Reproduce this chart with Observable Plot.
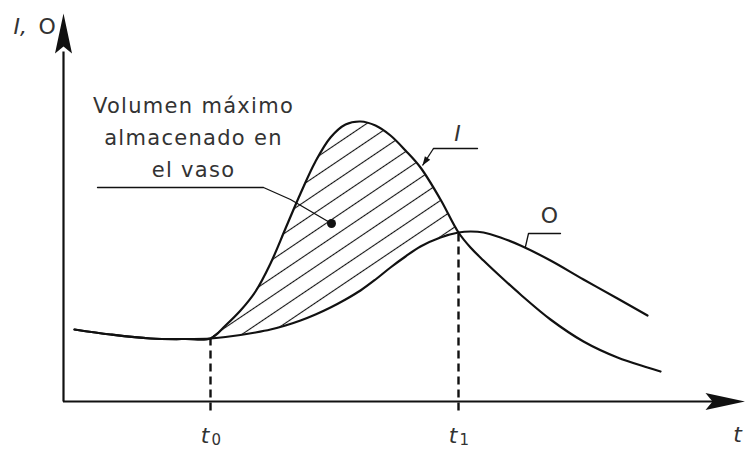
<!DOCTYPE html>
<html>
<head>
<meta charset="utf-8">
<script src="https://cdn.jsdelivr.net/npm/d3@7"></script>
<script src="https://cdn.jsdelivr.net/npm/@observablehq/plot@0.6"></script>
<style>
  html, body { margin: 0; padding: 0; background: #fff; overflow: hidden; }
  #chart svg { display: block; }
</style>
</head>
<body>
<div id="chart"></div>
<script>
const time    = [1.1, 4.7, 8.7, 12.2, 14.7, 16.2, 17.7, 19.2, 20.7, 22.2, 23.7, 25.2, 26.7, 28.2, 29.7, 31.2, 32.7, 34.2, 35.7, 37.7, 39.5, 40.7, 42.0, 43.7, 45.7, 48.7, 52.0, 55.4, 58.4, 59.7];
const inflow  = [7.2, 6.7, 6.3, 6.25, 6.3, 7.6, 9.1, 11.0, 13.8, 17.3, 20.8, 24.0, 26.4, 27.7, 28.0, 27.6, 26.6, 25.1, 23.4, 20.2, 16.9, 15.4, 14.1, 12.5, 10.7, 8.2, 6.0, 4.4, 3.4, 3.0];
const outflow = [7.2, 6.7, 6.3, 6.25, 6.3, 6.45, 6.65, 6.9, 7.2, 7.6, 8.1, 8.7, 9.4, 10.2, 11.1, 12.2, 13.4, 14.5, 15.5, 16.4, 16.9, 17.0, 16.9, 16.4, 15.6, 14.1, 12.2, 10.3, 8.6, null];
const t0 = 14.7;
const t1 = 39.5;
const tickLabels = [
  {t: t0, label: "t", sub: "0"},
  {t: t1, label: "t", sub: "1"}
];
const storageText = "Volumen máximo\nalmacenado en\nel vaso";

const rows = time.map((t, i) => ({t, I: inflow[i], O: outflow[i]}));
const storage = rows.filter(d => d.t >= t0 && d.t <= t1);
const qAt = (t) => rows.find(d => d.t === t).I;

const axisLines = [
  {x1: -0.05, y1: 0, x2: 65.0, y2: 0},
  {x1: 0, y1: 0, x2: 0, y2: 35.0}
];
const axisTips = [
  {t: 0, q: 38.8, rot: 0},
  {t: 68.2, q: 0, rot: 90}
];
const drops = [
  {t: t0, q1: -0.9, q2: qAt(t0)},
  {t: t1, q1: -0.9, q2: qAt(t1)}
];
const storageLeader = [
  {t: 3.4, q: 21.4}, {t: 20.0, q: 21.4}, {t: 22.7, q: 20.2}, {t: 26.8, q: 17.8}
];
const inflowLeader = [
  {t: 41.4, q: 25.3}, {t: 37.0, q: 25.3}
];
const outflowLeader = [
  {t: 46.2, q: 15.5}, {t: 46.5, q: 16.8}, {t: 49.7, q: 16.8}
];

const arrowSym = {
  draw(ctx) {
    ctx.moveTo(0, 0);
    ctx.lineTo(-8.5, 40);
    ctx.lineTo(0, 33);
    ctx.lineTo(8.5, 40);
    ctx.closePath();
  }
};
const wedgeSym = {
  draw(ctx) {
    ctx.moveTo(0, 0);
    ctx.lineTo(-3.2, -9);
    ctx.lineTo(3.2, -9);
    ctx.closePath();
  }
};

const font = "DejaVu Sans, Verdana, sans-serif";
const ink = "#111";

const chart = Plot.plot({
  width: 745,
  height: 451,
  margin: 0,
  x: {domain: [-6.3, 68.2], axis: null},
  y: {domain: [-5.0, 40.1], axis: null},
  style: {background: "#fff", fontFamily: font},
  marks: [
    Plot.areaY(storage, {x: "t", y1: "O", y2: "I", curve: "catmull-rom", fill: "url(#hatch)", stroke: "none"}),
    Plot.link(axisLines, {x1: "x1", y1: "y1", x2: "x2", y2: "y2", stroke: ink, strokeWidth: 2.2}),
    Plot.dot(axisTips, {x: "t", y: "q", rotate: "rot", symbol: arrowSym, fill: ink, stroke: "none"}),
    Plot.link(drops, {x1: "t", x2: "t", y1: "q1", y2: "q2", stroke: ink, strokeWidth: 2.4, strokeDasharray: "8,5"}),
    Plot.line(rows, {x: "t", y: "I", curve: "catmull-rom", stroke: ink, strokeWidth: 2.2}),
    Plot.line(rows, {x: "t", y: "O", curve: "catmull-rom", stroke: ink, strokeWidth: 2.2}),
    Plot.line(storageLeader, {x: "t", y: "q", stroke: ink, strokeWidth: 1.3}),
    Plot.dot([storageLeader[storageLeader.length - 1]], {x: "t", y: "q", r: 4.5, fill: ink, stroke: "none"}),
    Plot.line(inflowLeader, {x: "t", y: "q", stroke: ink, strokeWidth: 1.3}),
    Plot.link([{a: 37.0, b: 25.3, c: 35.9, d: 23.6}], {x1: "a", y1: "b", x2: "c", y2: "d", stroke: ink, strokeWidth: 1.3}),
    Plot.dot([{t: 35.9, q: 23.6}], {x: "t", y: "q", rotate: 34, symbol: wedgeSym, fill: ink, stroke: "none"}),
    Plot.line(outflowLeader, {x: "t", y: "q", stroke: ink, strokeWidth: 1.3}),
    Plot.text([storageText], {x: 13.0, y: 26.7, text: d => d, fontSize: 21, lineHeight: 1.52, fill: "#333", textAnchor: "middle"}),
    Plot.text(["I"], {x: 39.4, y: 26.8, text: d => d, fontSize: 22, fontStyle: "italic", fill: "#333"}),
    Plot.text(["O"], {x: 48.6, y: 18.6, text: d => d, fontSize: 22, fill: "#333"}),
    Plot.text(["I,"], {x: -5.0, y: 37.5, text: d => d, fontSize: 22, fontStyle: "italic", textAnchor: "start", fill: "#333"}),
    Plot.text(["O"], {x: -2.5, y: 37.5, text: d => d, fontSize: 22, textAnchor: "start", fill: "#333"}),
    Plot.text(tickLabels, {x: d => d.t - 0.1, y: -3.4, text: "label", fontSize: 22, fontStyle: "italic", textAnchor: "end", fill: "#333"}),
    Plot.text(tickLabels, {x: d => d.t + 0.1, y: -3.9, text: "sub", fontSize: 15, textAnchor: "start", fill: "#333"}),
    Plot.text(["t"], {x: 67.4, y: -3.3, text: d => d, fontSize: 22, fontStyle: "italic", fill: "#333"})
  ]
});

// hatch pattern for the stored volume
const ns = "http://www.w3.org/2000/svg";
const defs = document.createElementNS(ns, "defs");
const pattern = document.createElementNS(ns, "pattern");
pattern.setAttribute("id", "hatch");
pattern.setAttribute("patternUnits", "userSpaceOnUse");
pattern.setAttribute("width", "15");
pattern.setAttribute("height", "15");
pattern.setAttribute("patternTransform", "rotate(-34)");
const hl = document.createElementNS(ns, "line");
hl.setAttribute("x1", "-1"); hl.setAttribute("x2", "16");
hl.setAttribute("y1", "7.5"); hl.setAttribute("y2", "7.5");
hl.setAttribute("stroke", "#111");
hl.setAttribute("stroke-width", "1.1");
pattern.appendChild(hl);
defs.appendChild(pattern);
chart.insertBefore(defs, chart.firstChild);

// wider letter spacing for the annotation block, as in the original lettering
chart.querySelectorAll("text").forEach(t => {
  if (t.textContent.includes("Volumen")) t.style.letterSpacing = "1.3px";
});

document.getElementById("chart").appendChild(chart);
</script>
</body>
</html>
